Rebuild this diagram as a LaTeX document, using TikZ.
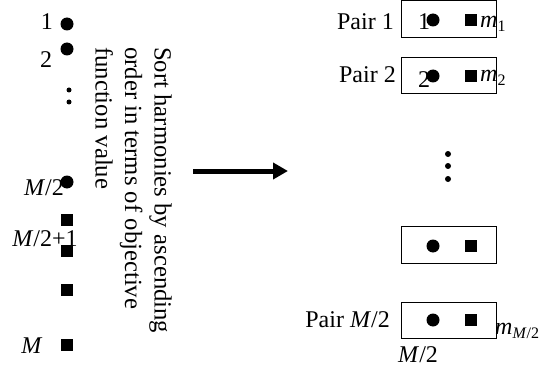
\documentclass[tikz,border=0pt]{standalone}
\usepackage{fontspec}
\setmainfont{Liberation Serif}
\usetikzlibrary{arrows.meta}
\newcommand{\mysub}[1]{\raisebox{-4pt}{\fontsize{16}{18}\selectfont #1}}
\begin{document}
\begin{tikzpicture}[x=1pt,y=-1pt,
  every node/.style={font=\fontsize{24}{29.5}\selectfont, inner sep=0pt},
  lbl/.style={},
  dotc/.style={circle, fill=black, minimum size=13pt},
  sq/.style={rectangle, fill=black, minimum size=12.5pt},
  smalldot/.style={circle, fill=black, minimum size=5pt},
  middot/.style={circle, fill=black, minimum size=6pt},
  pairbox/.style={draw, line width=1pt, minimum width=95pt, minimum height=36.5pt},
  bigarrow/.style={line width=5pt, -{Triangle[length=15pt,width=16pt]}}]
\useasboundingbox (0,0) rectangle (544,369);
% left column
\node[dotc] (c1) at (67,24) {};
\node[dotc] (c2) at (67,49) {};
\node[smalldot] (s1) at (69,90) {};
\node[smalldot] (s2) at (69,102) {};
\node[dotc] (c3) at (67,182) {};
\node[sq] (q1) at (67,220) {};
\node[sq] (q2) at (67,251) {};
\node[sq] (q3) at (67,290) {};
\node[sq] (q4) at (67,345) {};
\node[lbl, anchor=base] (l1) at (47,30) {1};
\node[lbl, anchor=base] (l2) at (46,67) {2};
\node[lbl, anchor=base east] (l3) at (64,195) {\textit{M}/2};
\node[lbl, anchor=base] (l4) at (45,246) {\textit{M}/2+1};
\node[lbl, anchor=base] (l5) at (32,353) {\textit{M}};
% rotated text
\node[lbl, rotate=-90, anchor=north west, align=left, font=\fontsize{24.7}{29.5}\selectfont] (sorttext) at (172,47)
  {Sort harmonies by ascending\\order in terms of objective\\function value};
% arrow
\coordinate (a0) at (193,171);
\coordinate (a1) at (288,171);
\draw[bigarrow] (a0) -- (a1);
% boxes
\node[pairbox] (b1) at (448.5,19) {};
\node[pairbox] (b2) at (448.5,75.5) {};
\node[pairbox] (b3) at (448.5,245) {};
\node[pairbox] (b4) at (448.5,320.5) {};
\node[dotc] (bc1) at (433,20) {};
\node[sq] (bq1) at (471,20) {};
\node[dotc] (bc2) at (433,76) {};
\node[sq] (bq2) at (471,76) {};
\node[dotc] (bc3) at (433,246) {};
\node[sq] (bq3) at (471,246) {};
\node[dotc] (bc4) at (433,320) {};
\node[sq] (bq4) at (471,320) {};
\node[middot] (d1) at (448,154) {};
\node[middot] (d2) at (448,166) {};
\node[middot] (d3) at (448,179) {};
% right labels
\node[lbl, anchor=base east] (p1) at (394,30) {Pair 1};
\node[lbl, anchor=base east] (p2) at (396,83) {Pair 2};
\node[lbl, anchor=base east] (p3) at (390,327) {Pair \textit{M}/2};
\node[lbl, anchor=base] (n1) at (424,30) {1};
\node[lbl, anchor=base] (n2) at (424,88) {2};
\node[lbl, anchor=base west] (m1) at (480,28) {\textit{m}\mysub{1}};
\node[lbl, anchor=base west] (m2) at (480,82) {\textit{m}\mysub{2}};
\node[lbl, anchor=base west] (m3) at (495,334) {\textit{m}\mysub{\textit{M}/2}};
\node[lbl, anchor=base west] (m4) at (398,362) {\textit{M}/2};
\end{tikzpicture}
\end{document}
